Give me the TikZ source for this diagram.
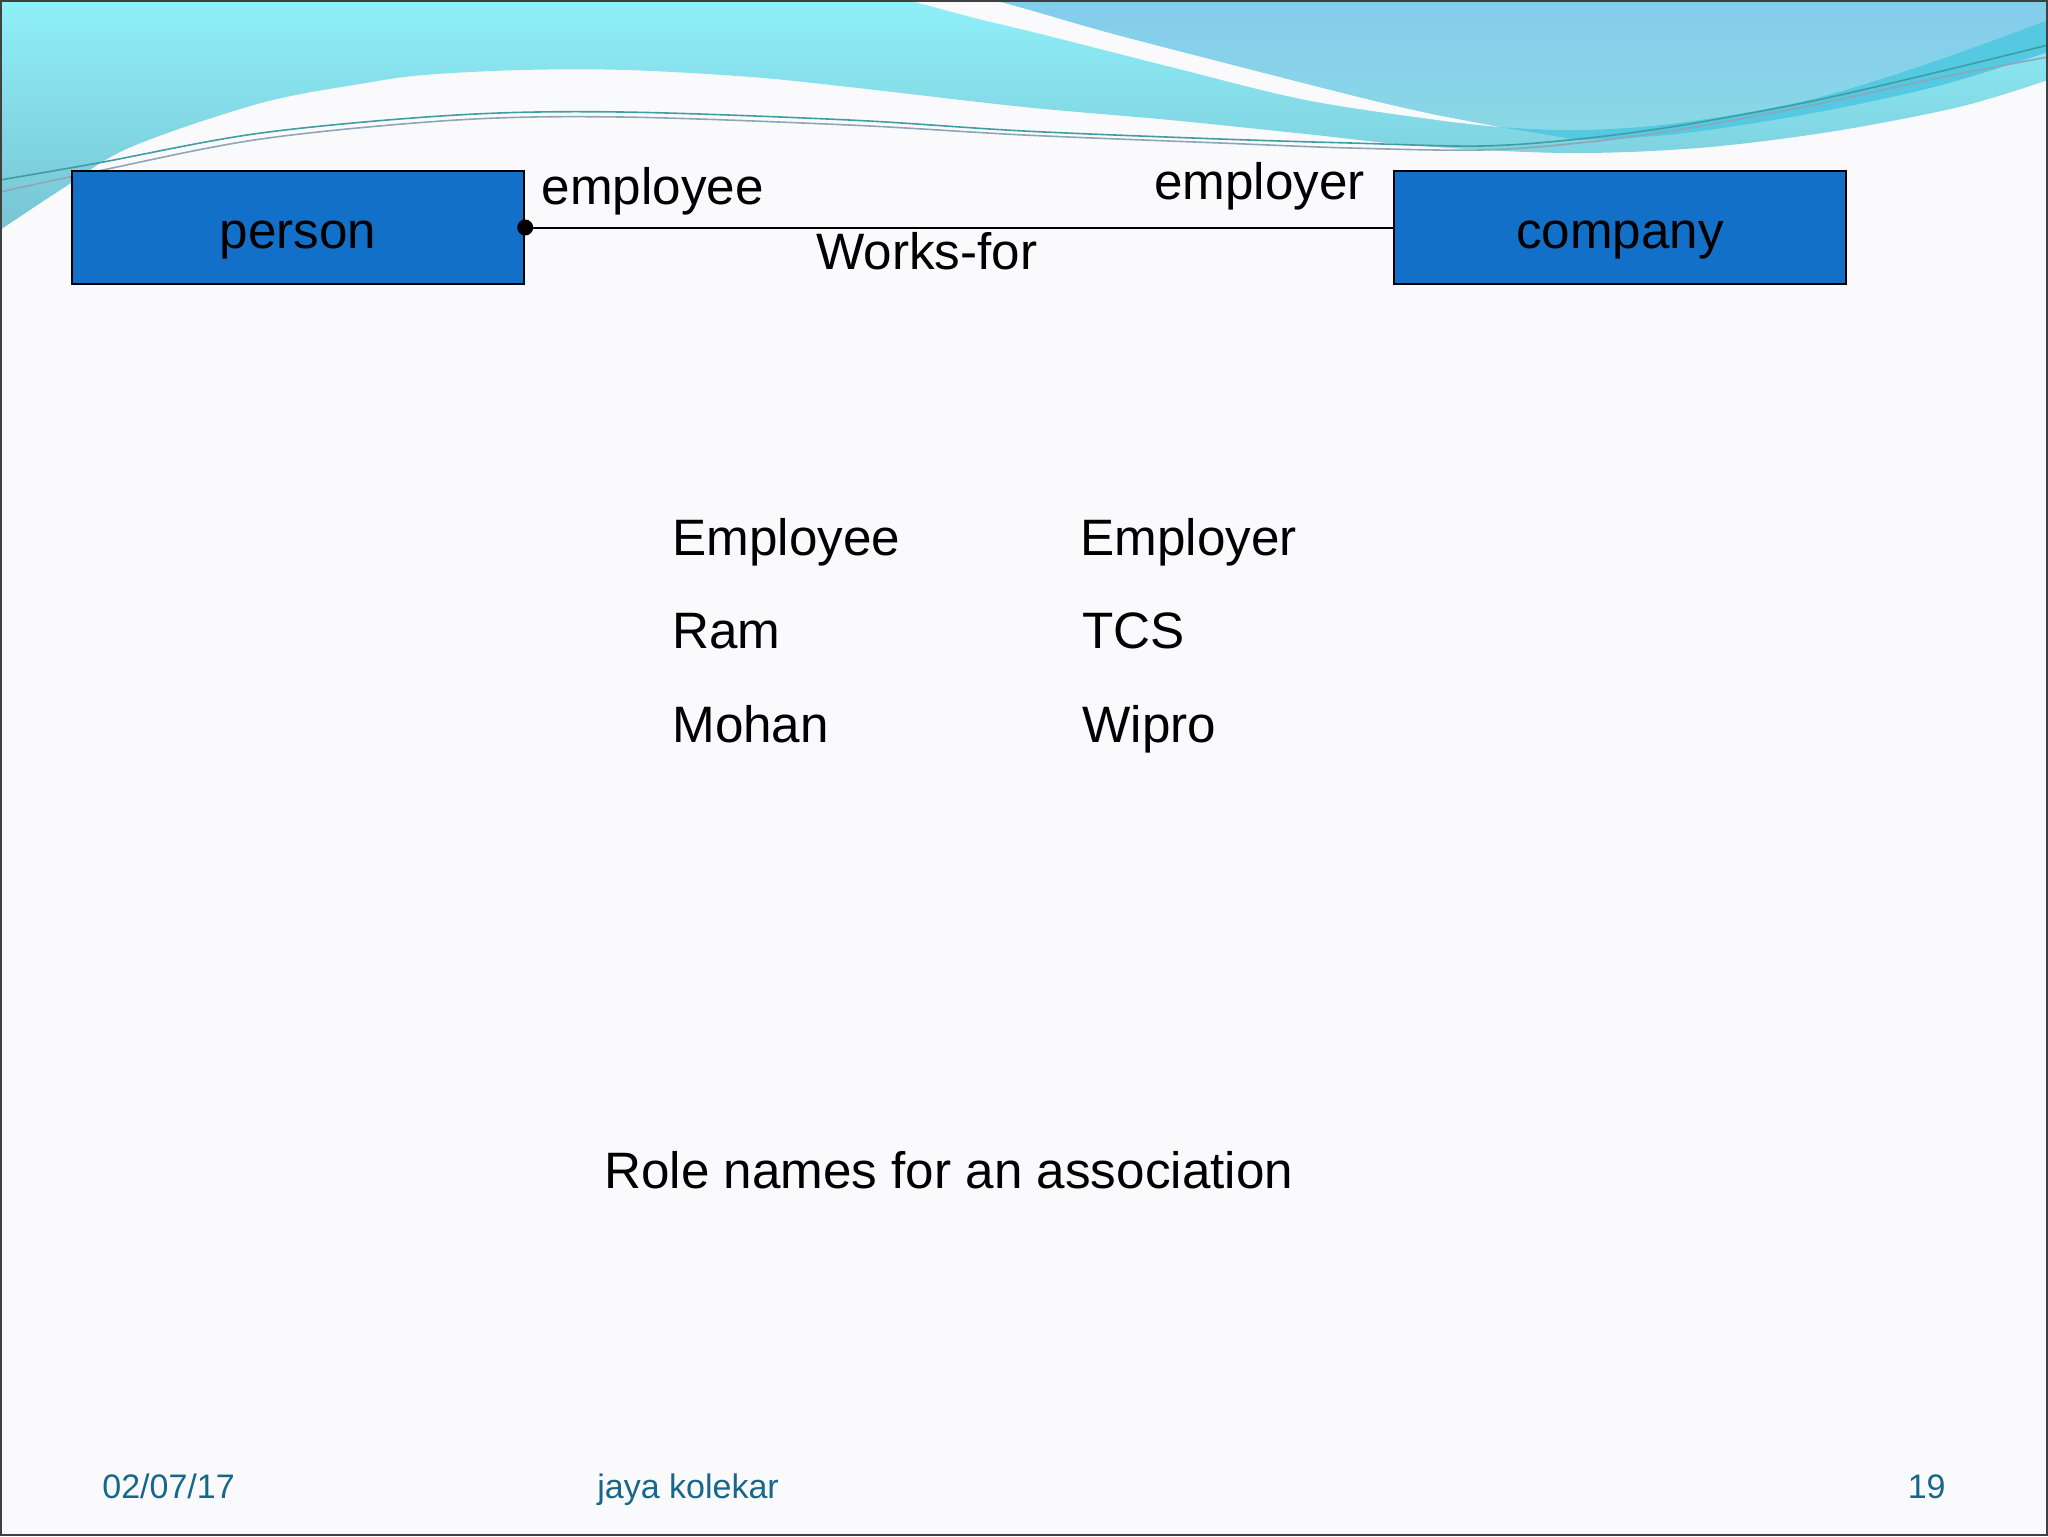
\documentclass[tikz,border=0pt]{standalone}
\usepackage{fontspec}
\setmainfont{Liberation Sans}
\usepackage{tikz}
\definecolor{slidebg}{HTML}{FAFAFC}
\definecolor{entblue}{HTML}{1270C8}
\definecolor{footteal}{HTML}{17678A}
\definecolor{waveA}{HTML}{8FF0F8}
\definecolor{waveAlow}{HTML}{78C4D4}
\definecolor{waveB}{HTML}{84CCEC}
\definecolor{waveBlow}{HTML}{8AD8E6}
\definecolor{waveC}{HTML}{55C8E2}
\definecolor{lineteal}{HTML}{3F9EA2}
\definecolor{linegrey}{HTML}{8EA6B6}
\newcommand{\bigtxt}{\fontsize{25.6pt}{30pt}\selectfont}
\newcommand{\foottxt}{\fontsize{17pt}{20pt}\selectfont}

\begin{document}
\begin{tikzpicture}
			[x=0.5pt,y=-0.5pt,
			entity/.style={draw=black,line width=1.2pt,fill=entblue,inner sep=0pt,
				minimum width=226pt,minimum height=56.5pt,text height=38.5pt,text depth=18pt,font=\bigtxt},
			role/.style={inner sep=0pt,font=\bigtxt},
			cell/.style={inner sep=0pt,anchor=base west,font=\bigtxt},
			foot/.style={inner sep=0pt,font=\foottxt,text=footteal},
			swoosh/.style={line width=0.8pt,draw=#1}]
			\fill[slidebg] (0,0) rectangle (2048,1536);
			\useasboundingbox (0,0) rectangle (2048,1536);
			\shade[top color=waveA,bottom color=waveAlow] (0,0) -- (2048,0)
				-- plot[smooth,tension=0.55] coordinates {(2048,80) (1959,107) (1829,132) (1698,148) (1567,153) (1420,146)
					(1306,134) (1170,120) (1024,107) (849,87) (751,77) (627,70) (522,70) (424,75) (366,83) (261,103)
					(131,147) (65,187) (0,230)} -- cycle;
			\fill[slidebg] plot[smooth,tension=0.55] coordinates {(908,0) (975,18) (1045,35) (1175,68) (1306,100)
					(1437,120) (1500,127)}
				-- plot[smooth,tension=0.55] coordinates {(1437,115) (1371,100) (1241,67) (1110,33) (1030,10) (993,0)} -- cycle;
			\fill[waveC] plot[smooth,tension=0.55] coordinates {(2048,18) (1938,60) (1808,100) (1677,123) (1579,130) (1500,127)}
				-- plot[smooth,tension=0.55] coordinates {(1579,140) (1677,134) (1808,114) (1938,86) (2048,52)} -- cycle;
			\shade[top color=waveB,bottom color=waveBlow] (993,0) -- (2048,0)
				-- plot[smooth,tension=0.55] coordinates {(2048,20) (1938,60) (1808,100) (1677,123) (1579,130) (1500,127)}
				-- plot[smooth,tension=0.55] coordinates {(1437,115) (1371,100) (1241,67) (1110,33) (1030,10) (993,0)} -- cycle;
			\draw[swoosh=lineteal] plot[smooth,tension=0.55] coordinates {(0,180) (98,163) (261,133) (457,115) (620,112)
					(849,120) (1024,131) (1220,139) (1350,143) (1481,146) (1579,139) (1677,126) (1808,102) (1938,72) (2048,45)};
			\draw[swoosh=linegrey] plot[smooth,tension=0.55] coordinates {(0,192) (98,171) (261,139) (457,120) (620,117)
					(849,125) (1024,135) (1220,143) (1350,148) (1481,150) (1579,143) (1677,130) (1808,106) (1938,78) (2048,57)};

			\node[entity] (person) at (298,227.5) {person};
			\node[entity] (company) at (1620,227.5) {company};
			\draw[line width=1pt] (person.east)
				-- node[role,pos=0.018,anchor=base west,yshift=11.75pt] (employee) {employee}
				node[role,pos=0.3345,anchor=base west,yshift=-20.75pt] (worksfor) {Works-for}
				node[role,pos=0.969,anchor=base east,yshift=14.25pt] (employer) {employer}
				(company.west);
			\fill (person.east) circle (4pt);

			\node[cell] (colee) at (672,555) {Employee};
			\node[cell] (coler) at (1080,555) {Employer};
			\node[cell] (ram) at (672,648) {Ram};
			\node[cell] (tcs) at (1082,648) {TCS};
			\node[cell] (mohan) at (672,742) {Mohan};
			\node[cell] (wipro) at (1082,742) {Wipro};
			\node[cell] (caption) at (604,1188) {Role names for an association};

			\node[foot,anchor=base west] (date) at (102,1498) {02/07/17};
			\node[foot,anchor=base west] (author) at (597,1498) {jaya kolekar};
			\node[foot,anchor=base east] (pageno) at (1946,1498) {19};
			\draw[line width=1pt,draw=black!75] (1,1) rectangle (2047,1535);
			\end{tikzpicture}
\end{document}
